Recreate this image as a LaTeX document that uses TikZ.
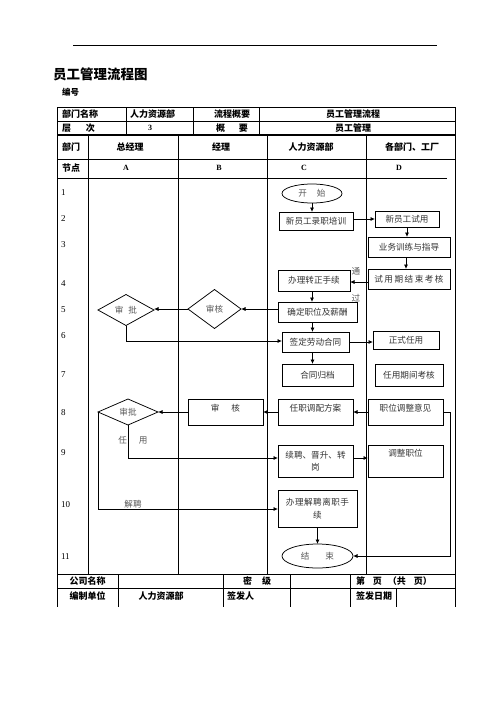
\documentclass[tikz,border=0pt]{standalone}
\usepackage{fontspec}
\setmainfont{Noto Sans CJK SC}
\newfontfamily\serifnum{Liberation Serif}
\usetikzlibrary{shapes.geometric,arrows.meta}
\tikzset{
  every node/.style={inner sep=0pt, outer sep=0pt},
  box/.style={draw, line width=0.75pt, font=\fontsize{8.6}{12}\selectfont, text=black!80, align=center},
  oval/.style={ellipse, draw, line width=0.75pt, font=\fontsize{8.6}{12}\selectfont, text=black!65},
  dia/.style={diamond, draw, line width=0.75pt, font=\fontsize{8.6}{12}\selectfont, text=black!65},
  hdr/.style={font=\bfseries\fontsize{9}{10}\selectfont},
  num/.style={font=\serifnum\fontsize{9}{10}\selectfont, anchor=west},
  lab/.style={font=\fontsize{8.6}{10}\selectfont, text=black!65},
  arr/.style={line width=0.75pt, -{Latex[length=4.5pt,width=4pt]}},
  grid/.style={line width=0.9pt},
}
\begin{document}
\begin{tikzpicture}[x=1pt,y=-1pt]
\fill[white] (0,0) rectangle (496,702);
\path[use as bounding box] (0,0) rectangle (496,702);

% top rule and titles
\draw[line width=0.8pt] (73,45) -- (437,45);
\node[anchor=west, font=\bfseries\fontsize{13.5}{15}\selectfont] (title) at (53,74) {员工管理流程图};
\node[anchor=west, font=\bfseries\fontsize{8.5}{10}\selectfont] (code) at (62,92) {编号};

% header table
\draw[grid] (57,107) -- (455,107);
\draw[grid] (57,121) -- (455,121);
\draw[line width=1.2pt] (57,135) -- (455,135);
\draw[grid] (57,159) -- (455,159);
\draw[grid] (57,178) -- (447,178);
\draw[grid] (57,107) -- (57,607);
\draw[grid] (455,107) -- (455,607);
\foreach \x in {126,193,259} \draw[grid] (\x,107) -- (\x,135);
\foreach \x in {88,178,267,366} \draw[grid] (\x,135) -- (\x,574);
% footer
\draw[grid] (57,574) -- (455,574);
\draw[grid] (57,588) -- (455,588);
\foreach \x in {118,223,290,350} \draw[grid] (\x,574) -- (\x,607);
\draw[grid] (396,588) -- (396,607);

% header texts
\node[hdr, anchor=west] (h1) at (62,114) {部门名称};
\node[hdr, anchor=west] (h2) at (130,114) {人力资源部};
\node[hdr] (h3) at (232,114) {流程概要};
\node[hdr] (h4) at (353,114) {员工管理流程};
\node[hdr, anchor=west] (h5) at (62,128) {层\hspace{15pt}次};
\node[hdr, font=\serifnum\bfseries\fontsize{8}{10}\selectfont] (h6) at (150,128) {3};
\node[hdr] (h7) at (232,128) {概\hspace{14pt}要};
\node[hdr] (h8) at (353,128) {员工管理};
\node[hdr, anchor=west] (h9) at (62,147) {部门};
\node[hdr] (h10) at (130,147) {总经理};
\node[hdr] (h11) at (221,147) {经理};
\node[hdr] (h12) at (311,147) {人力资源部};
\node[hdr] (h13) at (412,147) {各部门、工厂};
\node[hdr, anchor=west] (h14) at (62,168) {节点};
\node[hdr, font=\serifnum\bfseries\fontsize{8}{10}\selectfont] (hA) at (126,168) {A};
\node[hdr, font=\serifnum\bfseries\fontsize{8}{10}\selectfont] (hB) at (219,168) {B};
\node[hdr, font=\serifnum\bfseries\fontsize{8}{10}\selectfont] (hC) at (304,168) {C};
\node[hdr, font=\serifnum\bfseries\fontsize{8}{10}\selectfont] (hD) at (399,168) {D};

% footer texts
\node[hdr] (f1) at (87.5,581.5) {公司名称};
\node[hdr] (f2) at (257,581.5) {密\hspace{10pt}级};
\node[hdr, anchor=west] (f3) at (356,581.5) {第\hspace{8pt}页\hspace{6pt}（共\hspace{8pt}页）};
\node[hdr] (f4) at (87.5,596) {编制单位};
\node[hdr] (f5) at (161,596) {人力资源部};
\node[hdr, anchor=west] (f6) at (227,596) {签发人};
\node[hdr, anchor=west] (f7) at (356,596) {签发日期};

% row numbers
\node[num] (r1) at (61,193) {1};
\node[num] (r2) at (61,219) {2};
\node[num] (r3) at (61,245) {3};
\node[num] (r4) at (61,284) {4};
\node[num] (r5) at (61,310) {5};
\node[num] (r6) at (61,336) {6};
\node[num] (r7) at (61,375) {7};
\node[num] (r8) at (61,413) {8};
\node[num] (r9) at (61,453) {9};
\node[num] (r10) at (61,505) {10};
\node[num] (r11) at (61,557) {11};

% flow nodes
\node[oval, minimum width=60, minimum height=19] (start) at (312,193.5) {开\hspace{10pt}始};
\node[box, minimum width=74, minimum height=18] (n1) at (316,221) {新员工录职培训};
\node[box, minimum width=64, minimum height=16] (n2) at (407,219.5) {新员工试用};
\node[box, minimum width=82, minimum height=20] (n3) at (409,247) {业务训练与指导};
\node[box, minimum width=82, minimum height=20] (n4) at (409,279) {试\hspace{1.5pt}用\hspace{1.5pt}期\hspace{1.5pt}结\hspace{1.5pt}束\hspace{1.5pt}考\hspace{1.5pt}核};
\node[box, minimum width=72, minimum height=21] (n5) at (314,280.5) {办理转正手续};
\node[box, minimum width=79, minimum height=20] (n6) at (317.5,312) {确定职位及薪酬};
\node[box, minimum width=67, minimum height=20] (n7) at (315.5,342) {签定劳动合同};
\node[box, minimum width=66, minimum height=18] (n8) at (406,340) {正式任用};
\node[box, minimum width=71, minimum height=22] (n9) at (317.5,375) {合同归档};
\node[box, minimum width=68, minimum height=22] (n10) at (409,375) {任用期间考核};
\node[box, minimum width=75, minimum height=26, text height=7, text depth=9] (n11) at (315.5,412) {任职调配方案};
\node[box, minimum width=75, minimum height=26, text height=7, text depth=9] (n12) at (405.5,412) {职位调整意见};
\node[box, minimum width=75, minimum height=26, text height=7, text depth=10] (n13) at (225.5,412.5) {审\hspace{12pt}核};
\node[box, minimum width=75, minimum height=32] (n14) at (315.5,461) {续聘、晋升、转\\岗};
\node[box, minimum width=75, minimum height=32, text height=7, text depth=16] (n15) at (405.5,461) {调整职位};
\node[box, minimum width=79, minimum height=37, font=\fontsize{8.6}{13}\selectfont] (n16) at (317.5,509) {办\hspace{0.5pt}理\hspace{0.5pt}解\hspace{0.5pt}聘\hspace{0.5pt}离\hspace{0.5pt}职\hspace{0.5pt}手\\续};
\node[oval, minimum width=71, minimum height=24] (end) at (317.5,556) {结\hspace{16pt}束};

\node[dia, minimum width=56, minimum height=31] (d1) at (126,310) {审\hspace{5pt}批};
\node[dia, minimum width=53, minimum height=39] (d2) at (214.5,309) {审核};
\node[dia, minimum width=60, minimum height=26] (d3) at (128,412) {审批};

% labels
\node[lab] (t1) at (356,271) {通};
\node[lab] (t2) at (356,298) {过};
\node[lab] (t3) at (133,440) {任\hspace{12pt}用};
\node[lab] (t4) at (133,504) {解聘};

% connectors
\draw[arr] (start.south) -- (start.south |- n1.north);
\draw[arr] ([yshift=2pt]n1.east) -- ([yshift=2pt]n1.east -| n2.west);
\draw[arr] (n2.south) -- (n2.south |- n3.north);
\draw[arr] ([xshift=-3pt]n3.south) -- ([xshift=-3pt]n4.north);
\draw[arr] ([yshift=-3pt]n4.west) -- ([yshift=-3pt]n4.west -| n5.east);
\draw[arr] ([xshift=-2pt]n5.south) -- ([xshift=-2pt]n5.south |- n6.north);
\draw[arr] ([xshift=-5pt]n6.south) -- ([xshift=-5pt]n6.south |- n7.north);
\draw[arr] ([xshift=-3pt]n7.south) -- ([xshift=-3pt]n7.south |- n9.north);
\draw[arr] (n7.east) -- (n7.east -| n8.west);
\draw[arr] (n6.west |- d2.east) -- (d2.east);
\draw[arr] (d2.west) -- (d2.west -| d1.east);
\draw[arr] (d1.south) |- ([yshift=1pt]n7.west);
\draw[arr] (n12.west) -- (n11.east);
\draw[arr] (n11.west) -- (n11.west -| n13.east);
\draw[arr] (n13.west |- d3.east) -- (d3.east);
\draw[arr] (d3.south) |- ([yshift=3pt]n14.west);
\draw[arr] ([yshift=3pt]n14.east) -- ([yshift=3pt]n14.east -| n15.west);
\draw[arr] (d3.west) |- (n16.west);
\draw[arr] (n16.south) -- (n16.south |- end.north);
\coordinate (c1) at (450,412);
\draw[arr] (n12.east) -- (c1) |- (end.east);
\end{tikzpicture}
\end{document}
